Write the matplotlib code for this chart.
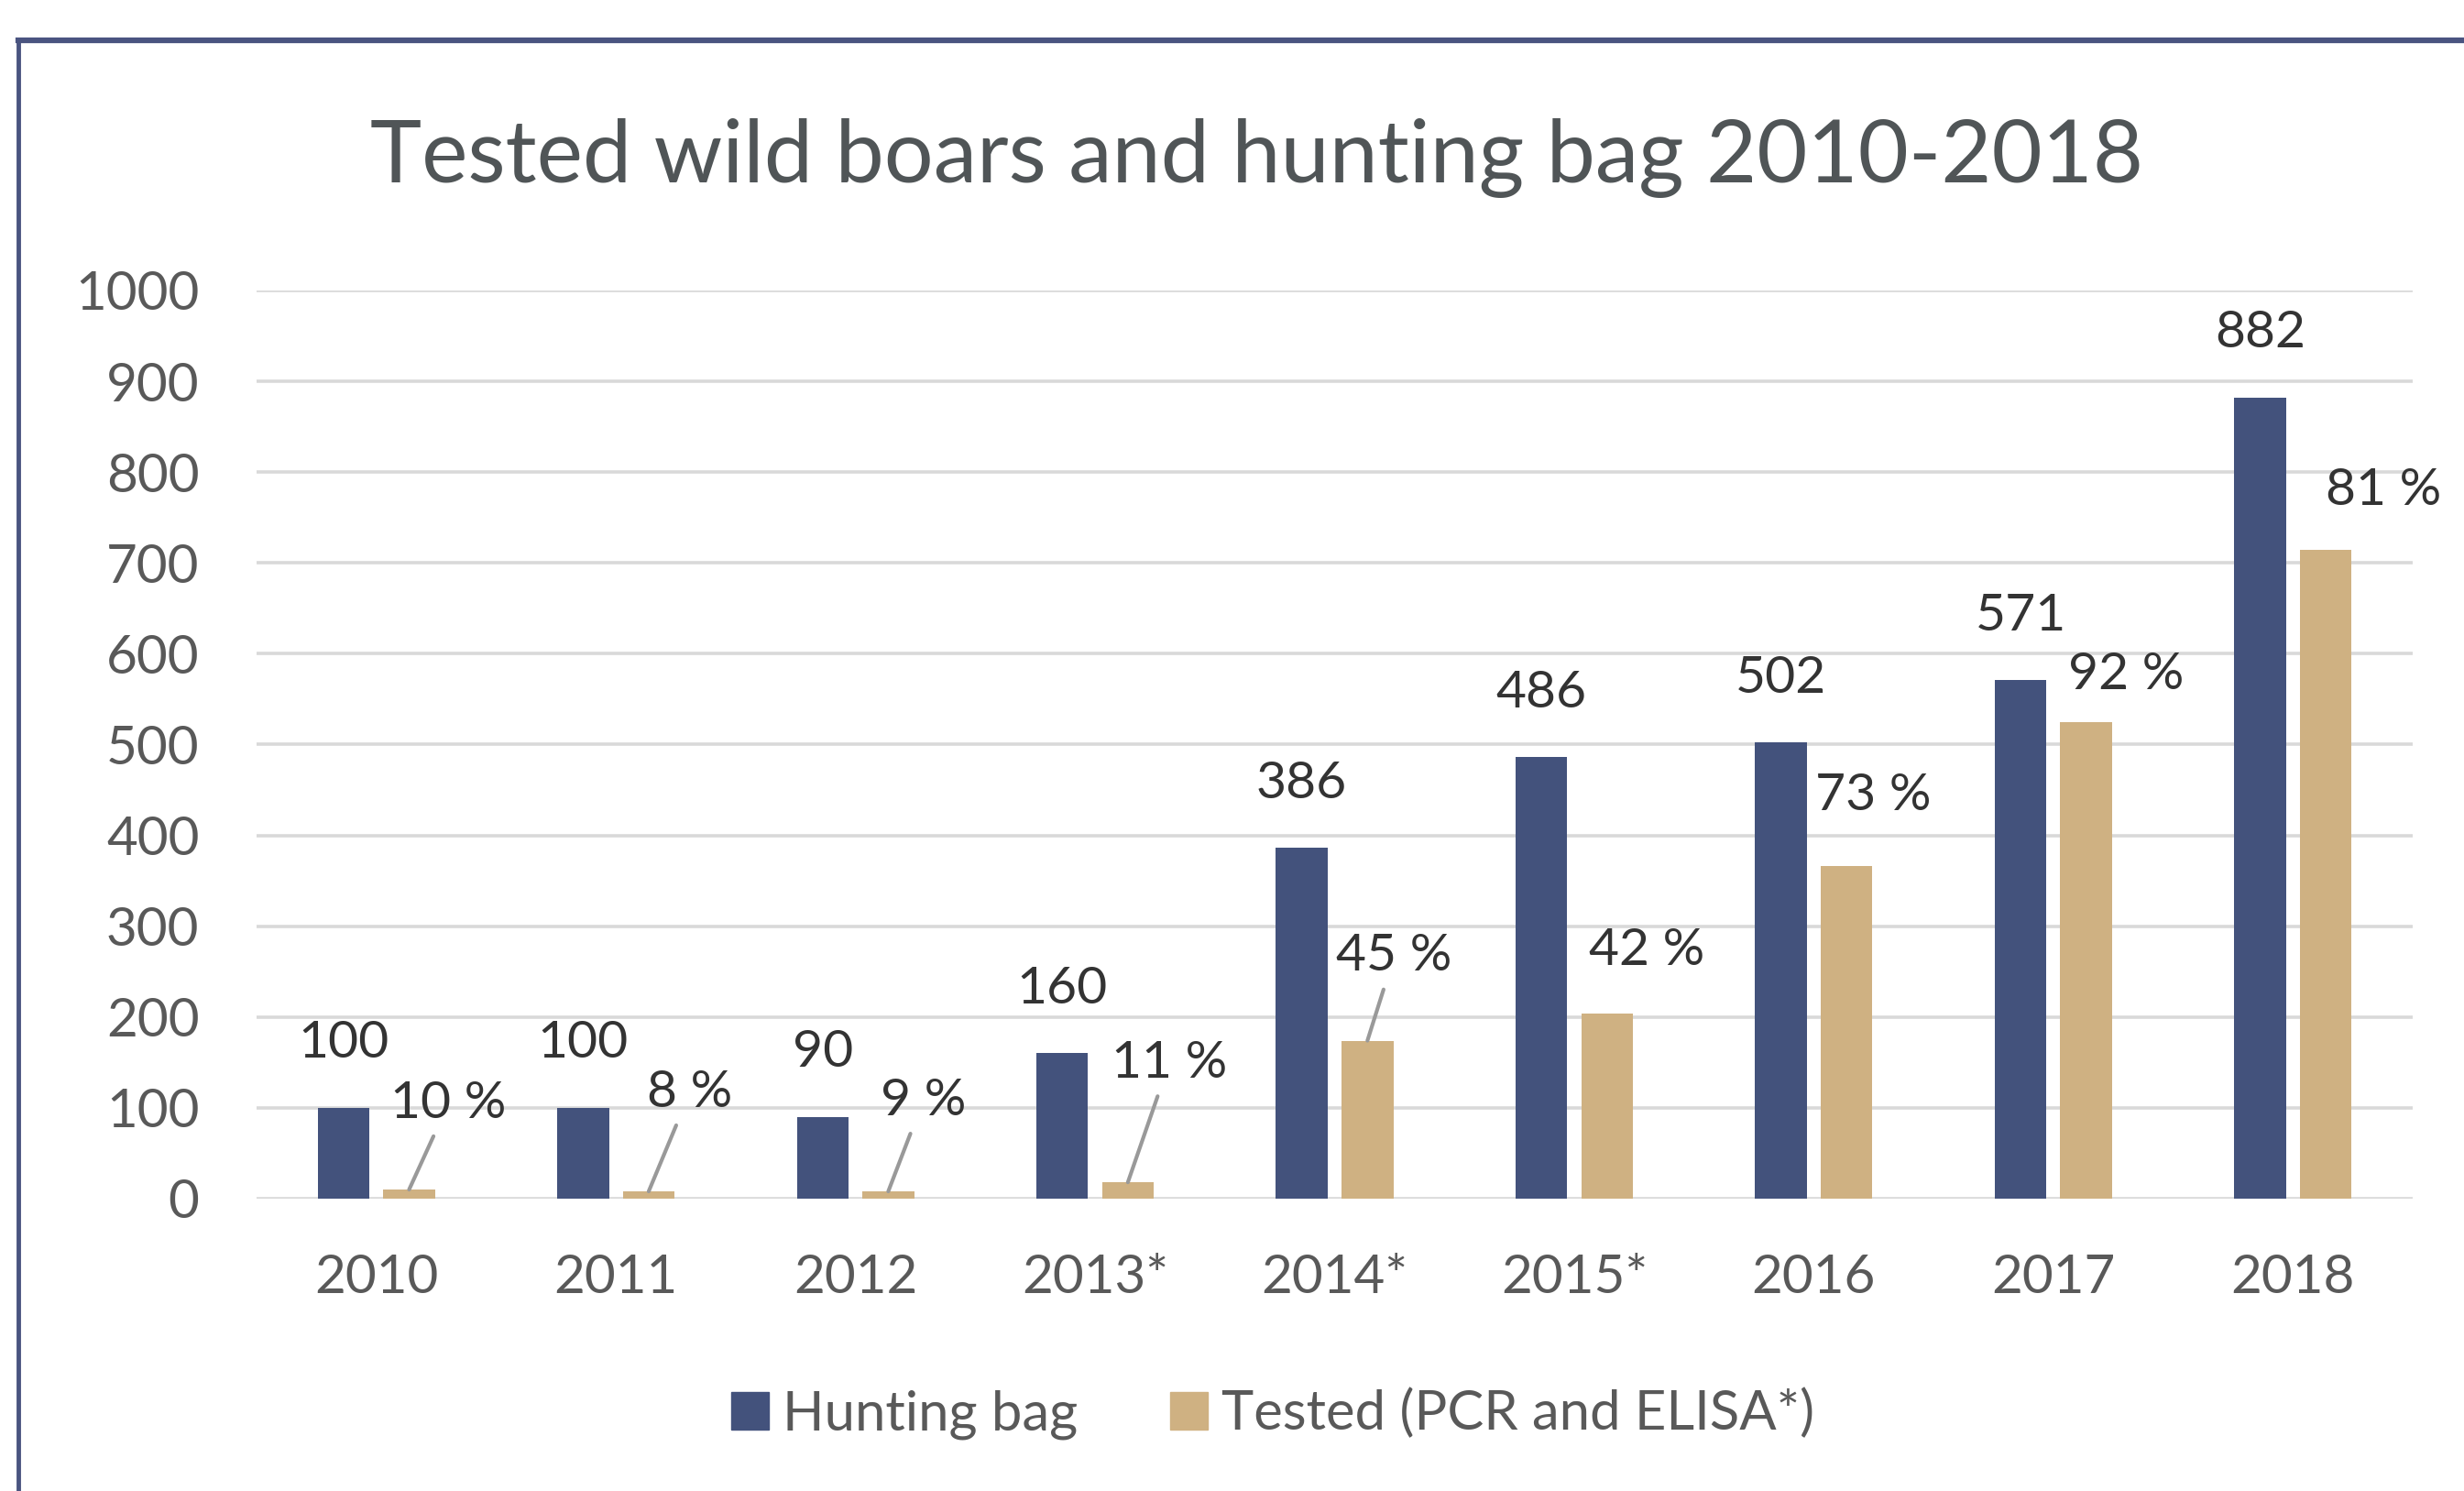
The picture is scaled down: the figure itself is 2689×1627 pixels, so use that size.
import matplotlib
matplotlib.use("Agg")
import matplotlib.pyplot as plt
from matplotlib.patches import Patch
from matplotlib.lines import Line2D
import numpy as np

# данные
years = ["2010", "2011", "2012", "2013*", "2014*", "2015*", "2016", "2017", "2018"]
hunting_bag = [100, 100, 90, 160, 386, 486, 502, 571, 882]
tested = [10, 8, 8, 18, 174, 204, 366, 525, 714]
tested_pct = ["10 %", "8 %", "9 %", "11 %", "45 %", "42 %", "73 %", "92 %", "81 %"]

# размещение подписей процентов (пиксели от верха бежевого столбца)
pct_offsets = [(43, 94), (45, 108), (38, 99), (45, 130), (29, 92),
               (43, 68), (29, 77), (43, 51), (63, 65)]
has_leader = [True, True, True, True, True, False, False, False, False]

blue = "#43527C"
tan = "#CFB182"
grey_text = "#595959"
dark_text = "#333333"

plt.rcParams['font.family'] = ['Lato', 'DejaVu Sans']

fig = plt.figure(figsize=(26.89, 16.27), dpi=100)
ax = fig.add_axes([0.1041, 0.1961, 0.9792 - 0.1041, 0.8052 - 0.1961])

x = np.arange(len(years))
w = 0.216
ax.bar(x - 0.137, hunting_bag, w, color=blue, zorder=3)
ax.bar(x + 0.137, tested, w, color=tan, zorder=3)

ax.set_xlim(-0.5, len(years) - 0.5)
ax.set_ylim(0, 1000)
ax.set_yticks(np.arange(0, 1001, 100))
ax.set_xticks(x)
ax.set_xticklabels(years)
ax.grid(axis='y', color='#D9D9D9', linewidth=2.6, zorder=0)
ax.tick_params(axis='both', length=0, labelsize=42, colors=grey_text)
ax.tick_params(axis='y', pad=45)
ax.tick_params(axis='x', pad=43)
for s in ax.spines.values():
    s.set_visible(False)

for xi, v in zip(x, hunting_bag):
    ax.annotate(str(v), (xi - 0.137, v), xytext=(0, 70), textcoords='offset pixels',
                ha='center', va='center', fontsize=41, color=dark_text, annotation_clip=False)

for xi, v, lab, off, lead in zip(x, tested, tested_pct, pct_offsets, has_leader):
    props = None
    if lead:
        props = dict(arrowstyle='-', color='#999999', lw=3, shrinkA=6, shrinkB=0)
    ax.annotate(lab, (xi + 0.137, v), xytext=off, textcoords='offset pixels',
                ha='center', va='center', fontsize=41, color=dark_text,
                arrowprops=props, annotation_clip=False)

fig.text(0.510, 0.894, "Tested wild boars and hunting bag 2010-2018",
         ha='center', va='center', fontsize=68.5, color='#505557')

handles = [Patch(color=blue, label='Hunting bag'),
           Patch(color=tan, label='Tested (PCR and ELISA*)')]
leg = fig.legend(handles=handles, loc='center', bbox_to_anchor=(0.5166, 0.0516),
                 ncol=2, frameon=False, fontsize=43, handlelength=0.68, handleheight=0.68,
                 handletextpad=0.25, columnspacing=1.7)
for t in leg.get_texts():
    t.set_color(grey_text)

# рамка
fig.add_artist(Line2D([20 / 2689, 20 / 2689], [0, 1 - 44 / 1627], color='#4A5480', lw=3.5))
fig.add_artist(Line2D([20 / 2689, 1], [1 - 44 / 1627, 1 - 44 / 1627], color='#4A5480', lw=4.5))

fig.savefig("out.png", dpi=100)
